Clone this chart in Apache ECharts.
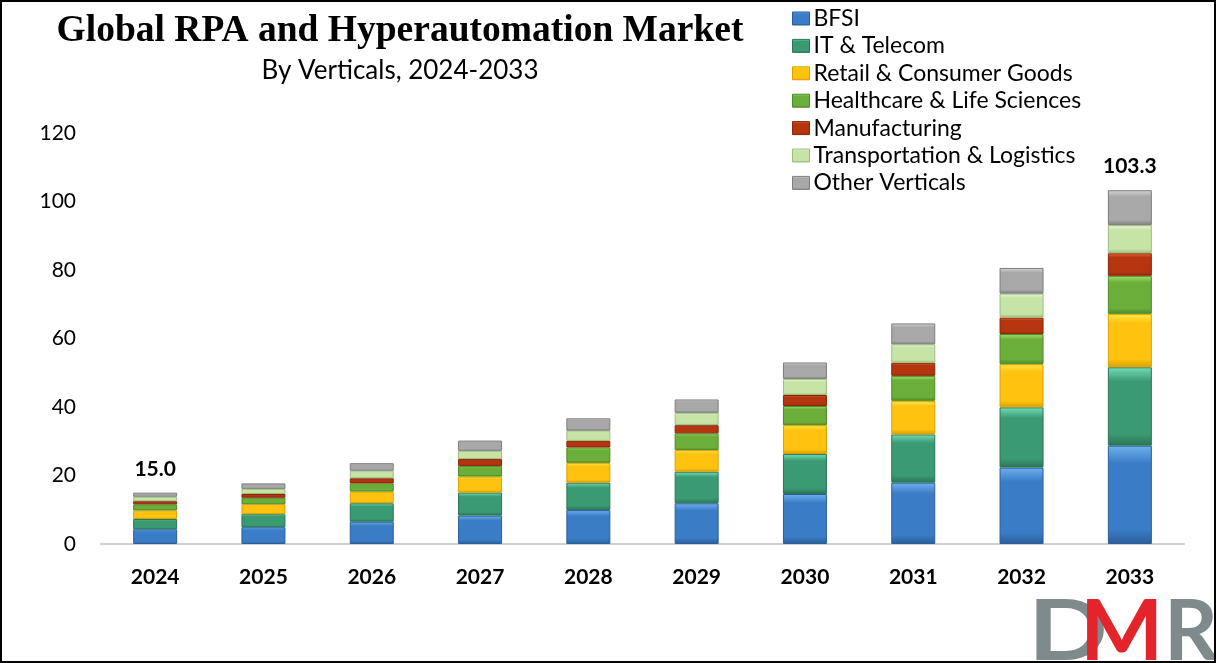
<!DOCTYPE html>
<html>
<head>
<meta charset="utf-8">
<script src="https://cdn.jsdelivr.net/npm/echarts@6/dist/echarts.min.js"></script>
<style>
html,body{margin:0;padding:0;background:#fff;}
#wrap{position:relative;width:1216px;height:663px;}
#chart{position:absolute;left:0;top:0;width:1216px;height:663px;}
#frame{position:absolute;left:0;top:0;width:1216px;height:663px;box-sizing:border-box;border:2px solid #000;pointer-events:none;}
</style>
</head>
<body>
<div id="wrap"><div id="chart"></div><div id="frame"></div></div>
<script>
const years = ['2024','2025','2026','2027','2028','2029','2030','2031','2032','2033'];
const seriesNames = ['BFSI','IT & Telecom','Retail & Consumer Goods','Healthcare & Life Sciences','Manufacturing','Transportation & Logistics','Other Verticals'];
const bfsi       = [4.3, 4.9, 6.5, 8.3, 9.9, 11.9, 14.6, 17.9, 22.3, 28.7];
const itTelecom  = [3.0, 3.8, 5.4, 6.7, 8.0, 9.2, 11.7, 14.1, 17.6, 22.9];
const retail     = [2.5, 2.9, 3.4, 4.7, 5.8, 6.3, 8.4, 9.8, 12.6, 15.6];
const healthcare = [1.8, 1.9, 2.4, 3.1, 4.5, 4.9, 5.6, 7.3, 8.8, 11.1];
const manufacturing = [0.9, 1.1, 1.5, 2.0, 1.9, 2.4, 3.2, 3.8, 4.8, 6.6];
const transport  = [1.3, 1.5, 2.2, 2.4, 3.0, 3.6, 4.7, 5.4, 7.0, 8.2];
const others     = [1.2, 1.6, 2.2, 3.0, 3.6, 3.9, 4.8, 6.1, 7.5, 10.2];
const yTicks = [0, 20, 40, 60, 80, 100, 120];
const labelledYears = ['2024','2033'];

const allData = [bfsi, itTelecom, retail, healthcare, manufacturing, transport, others];
const totals = years.map((y, i) => allData.reduce((s, arr) => s + arr[i], 0));

const palette = [
  {base:'#3A7DC6', light:'#6FB0EE', dark:'#2A5E99'},
  {base:'#3A9A73', light:'#74DDB8', dark:'#2A7556'},
  {base:'#FFC20E', light:'#FFE84A', dark:'#D9A000'},
  {base:'#6BAE3A', light:'#A5E06A', dark:'#4E8A28'},
  {base:'#B5350F', light:'#F06A3C', dark:'#8A260A'},
  {base:'#C6E4A6', light:'#EAF8DA', dark:'#9DBE80'},
  {base:'#A8A8A8', light:'#D6D6D6', dark:'#7E7E7E'}
];

function grad(c){
  return {type:'linear', x:0, y:0, x2:0, y2:1, colorStops:[
    {offset:0, color:c.light},
    {offset:0.18, color:c.base},
    {offset:0.85, color:c.base},
    {offset:1, color:c.dark}
  ]};
}

const font = 'Lato, "Open Sans", sans-serif';

const series = seriesNames.map((name, k) => ({
  name: name,
  type: 'bar',
  stack: 'total',
  barWidth: 44,
  data: allData[k],
  itemStyle: {color: grad(palette[k]), borderColor: palette[k].dark, borderWidth: 1},
  emphasis: {disabled: true},
  label: k === seriesNames.length - 1 ? {
    show: true, position: 'top', distance: 13,
    fontFamily: font, fontWeight: 'bold', fontSize: 21, color: '#000',
    formatter: p => labelledYears.indexOf(years[p.dataIndex]) >= 0 ? totals[p.dataIndex].toFixed(1) : ''
  } : {show: false}
}));

const chart = echarts.init(document.getElementById('chart'), null, {renderer: 'canvas'});
chart.setOption({
  animation: false,
  backgroundColor: '#fff',
  title: [
    {text: 'Global RPA and Hyperautomation Market', left: 395, top: 7, textAlign: 'center',
     textStyle: {fontFamily: '"Liberation Serif", serif', fontWeight: 'bold', fontSize: 37.5, color: '#000'}},
    {text: 'By Verticals, 2024-2033', left: 395, top: 53, textAlign: 'center',
     textStyle: {fontFamily: font, fontWeight: 'normal', fontSize: 26, color: '#000'}}
  ],
  legend: {
    orient: 'vertical', left: 787, top: 2,
    itemWidth: 17, itemHeight: 13, itemGap: 4.4,
    icon: 'rect',
    textStyle: {fontFamily: font, fontSize: 23, color: '#000', lineHeight: 22, padding: [0,0,0,-1]},
    data: seriesNames.map((n, k) => ({name: n, itemStyle: {color: grad(palette[k]), borderColor: palette[k].dark, borderWidth: 1}}))
  },
  grid: {left: 101, right: 32, top: 133, bottom: 119, containLabel: false},
  xAxis: {
    type: 'category', data: years,
    axisLine: {lineStyle: {color: '#D0D0D0', width: 2}},
    axisTick: {show: false},
    axisLabel: {fontFamily: font, fontWeight: 'bold', fontSize: 21, color: '#000', margin: 23}
  },
  yAxis: {
    type: 'value', min: yTicks[0], max: yTicks[yTicks.length - 1], interval: 20,
    axisLine: {show: false}, axisTick: {show: false}, splitLine: {show: false},
    axisLabel: {fontFamily: font, fontSize: 21, color: '#000', margin: 25}
  },
  graphic: [
    {type: 'text', x: 1028, y: 591, scaleX: 1.25, style: {text: 'D', fontFamily: 'Lato, sans-serif', fontWeight: 'bold', fontSize: 84, fill: '#7F8A8C'}},
    {type: 'text', x: 1080, y: 591, scaleX: 1.05, style: {text: 'M', fontFamily: 'Lato, sans-serif', fontWeight: 'bold', fontSize: 84, fill: '#E3242B'}},
    {type: 'text', x: 1164, y: 591, scaleX: 1.0, style: {text: 'R', fontFamily: 'Lato, sans-serif', fontWeight: 'bold', fontSize: 84, fill: '#7F8A8C'}}
  ],
  series: series
});
</script>
</body>
</html>
